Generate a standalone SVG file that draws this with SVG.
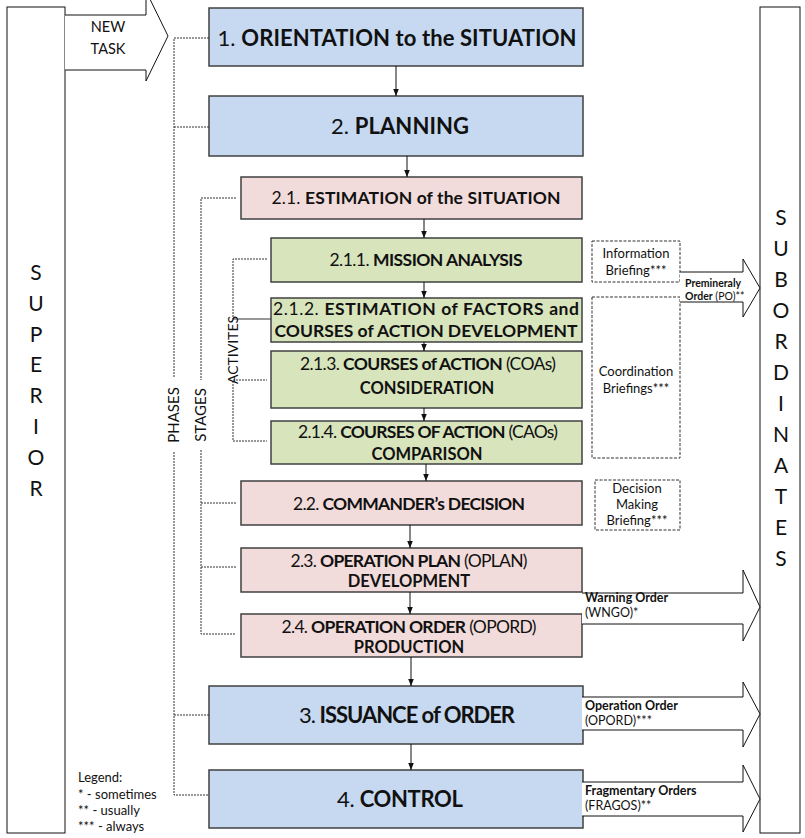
<svg xmlns="http://www.w3.org/2000/svg" width="805" height="838" viewBox="0 0 805 838">
  <style>
    text { font-family: Lato, "Liberation Sans", sans-serif; fill: #111; }
    .b { font-weight: bold; }
    .phase { fill: #c6d9f0; stroke: #404040; stroke-width: 1.5; }
    .stage { fill: #f2dcdb; stroke: #404040; stroke-width: 1.5; }
    .act { fill: #d7e4bc; stroke: #404040; stroke-width: 1.5; }
    .side { fill: #fff; stroke: #111; stroke-width: 1; }
    .big { fill: #fff; stroke: #111; stroke-width: 1; }
    .flow { stroke: #111; stroke-width: 1; fill: none; marker-end: url(#ah); }
    .dash { stroke: #333; stroke-width: 1; fill: none; stroke-dasharray: 2 1; }
    .solid { stroke: #333; stroke-width: 1; fill: none; }
    .brief { fill: #fff; stroke: #333; stroke-width: 1; stroke-dasharray: 3 1.5; }
    .t1 { font-size: 22px; }
    .t2 { font-size: 17.5px; }
    .t3 { font-size: 16.5px; font-weight: bold; text-anchor: middle; }
    .sm { font-size: 12.5px; }
    .br { font-size: 13px; }
    .letter { font-size: 21px; text-anchor: middle; }
    .lab { font-size: 15px; text-anchor: middle; }
    .mid { text-anchor: middle; }
  </style>
  <defs>
    <marker id="ah" markerWidth="8" markerHeight="8" refX="7" refY="4" orient="auto" markerUnits="userSpaceOnUse">
      <path d="M0,1.2 L7,4 L0,6.8 Z" fill="#111"/>
    </marker>
  </defs>

  <!-- side columns -->
  <g id="superior">
    <rect class="side" x="7" y="7" width="58" height="826"/>
    <g class="letter">
      <text x="36" y="280">S</text>
      <text x="36" y="311">U</text>
      <text x="36" y="342">P</text>
      <text x="36" y="372">E</text>
      <text x="36" y="403">R</text>
      <text x="36" y="434">I</text>
      <text x="36" y="465">O</text>
      <text x="36" y="496">R</text>
    </g>
  </g>
  <g id="subordinates">
    <rect class="side" x="760" y="7" width="40" height="826"/>
    <g class="letter">
      <text x="781" y="225">S</text>
      <text x="781" y="256">U</text>
      <text x="781" y="287">B</text>
      <text x="781" y="318">O</text>
      <text x="781" y="349">R</text>
      <text x="781" y="380">D</text>
      <text x="781" y="411">I</text>
      <text x="781" y="442">N</text>
      <text x="781" y="473">A</text>
      <text x="781" y="504">T</text>
      <text x="781" y="535">E</text>
      <text x="781" y="566">S</text>
    </g>
  </g>

  <!-- incoming task -->
  <g id="new-task">
    <path class="big" d="M65,15 H146 V-9 L168,36 L146,81 V70 H65"/>
    <text class="mid" x="108" y="32" style="font-size:14.5px">NEW</text>
    <text class="mid" x="108" y="54" style="font-size:14.5px">TASK</text>
  </g>

  <!-- phases -->
  <g id="p1">
    <rect class="phase" x="209" y="8" width="374" height="58"/>
    <text class="t1 mid" x="397" y="46" textLength="359">1. <tspan class="b">ORIENTATION to the SITUATION</tspan></text>
  </g>
  <g id="p2">
    <rect class="phase" x="209" y="96" width="374" height="60"/>
    <text class="t1 mid" x="400" y="134" textLength="138">2. <tspan class="b">PLANNING</tspan></text>
  </g>
  <g id="p3">
    <rect class="phase" x="209" y="686" width="374" height="58"/>
    <text class="t1 mid" x="407" y="723" textLength="216">3. <tspan class="b">ISSUANCE of ORDER</tspan></text>
  </g>
  <g id="p4">
    <rect class="phase" x="209" y="770" width="374" height="58"/>
    <text class="t1 mid" x="400" y="807" textLength="126">4. <tspan class="b">CONTROL</tspan></text>
  </g>

  <!-- stages -->
  <g id="s21">
    <rect class="stage" x="241" y="177" width="341" height="42"/>
    <text class="t2 mid" x="416" y="204" textLength="289">2.1. <tspan class="b">ESTIMATION of the SITUATION</tspan></text>
  </g>
  <g id="s22">
    <rect class="stage" x="241" y="481" width="341" height="44"/>
    <text class="t2 mid" x="409" y="510" textLength="232">2.2. <tspan class="b">COMMANDER’s DECISION</tspan></text>
  </g>
  <g id="s23">
    <rect class="stage" x="241" y="548" width="341" height="44"/>
    <text class="t2 mid" x="409" y="567" textLength="237">2.3. <tspan class="b">OPERATION PLAN</tspan> (OPLAN)</text>
    <text class="t3" x="409" y="587">DEVELOPMENT</text>
  </g>
  <g id="s24">
    <rect class="stage" x="241" y="614" width="341" height="43"/>
    <text class="t2 mid" x="409" y="633" textLength="255">2.4. <tspan class="b">OPERATION ORDER</tspan> (OPORD)</text>
    <text class="t3" x="409" y="653">PRODUCTION</text>
  </g>

  <!-- activities -->
  <g id="a211">
    <rect class="act" x="271" y="238" width="311" height="44"/>
    <text class="t2 mid" x="426" y="266" textLength="193">2.1.1. <tspan class="b">MISSION ANALYSIS</tspan></text>
  </g>
  <g id="a212">
    <rect class="act" x="271" y="298" width="311" height="44"/>
    <text class="t2 mid" x="426" y="315" textLength="306">2.1.2. <tspan class="b">ESTIMATION of FACTORS and</tspan></text>
    <text class="t2 mid b" x="426" y="337" textLength="303">COURSES of ACTION DEVELOPMENT</text>
  </g>
  <g id="a213">
    <rect class="act" x="271" y="351" width="311" height="57"/>
    <text class="t2 mid" x="428" y="370" textLength="256">2.1.3. <tspan class="b">COURSES of ACTION</tspan> (COAs)</text>
    <text class="t3" x="427" y="394">CONSIDERATION</text>
  </g>
  <g id="a214">
    <rect class="act" x="271" y="421" width="311" height="43"/>
    <text class="t2 mid" x="428" y="438" textLength="260">2.1.4. <tspan class="b">COURSES OF ACTION</tspan> (CAOs)</text>
    <text class="t3" x="427" y="460">COMPARISON</text>
  </g>

  <!-- briefings -->
  <g id="info-briefing">
    <rect class="brief" x="592" y="241" width="88" height="41"/>
    <text class="br mid" x="636" y="258">Information</text>
    <text class="br mid" x="636" y="275">Briefing***</text>
  </g>
  <g id="coord-briefing">
    <rect class="brief" x="592" y="297" width="88" height="161"/>
    <text class="br mid" x="636" y="376">Coordination</text>
    <text class="br mid" x="636" y="393">Briefings***</text>
  </g>
  <g id="decision-briefing">
    <rect class="brief" x="595" y="480" width="85" height="50"/>
    <text class="br mid" x="637" y="493">Decision</text>
    <text class="br mid" x="637" y="509">Making</text>
    <text class="br mid" x="637" y="525">Briefing***</text>
  </g>

  <!-- orders to subordinates -->
  <g id="po">
    <path class="big" d="M680,272 H743 V259 L760,288 L743,317 V302 H680"/>
    <text class="b" x="685" y="287" style="font-size:10.5px">Premineraly</text>
    <text x="685" y="300" style="font-size:10.5px"><tspan class="b">Order</tspan> (PO)**</text>
  </g>
  <g id="wngo">
    <path class="big" d="M582,593 H743 V570 L760,607 L743,641 V624 H582"/>
    <text class="sm b" x="585" y="602">Warning Order</text>
    <text class="sm" x="585" y="617">(WNGO)*</text>
  </g>
  <g id="opord">
    <path class="big" d="M582,697 H743 V682 L760,714 L743,747 V730 H582"/>
    <text class="sm b" x="585" y="710">Operation Order</text>
    <text class="sm" x="585" y="725">(OPORD)***</text>
  </g>
  <g id="fragos">
    <path class="big" d="M582,782 H743 V765 L760,799 L743,832 V816 H582"/>
    <text class="sm b" x="585" y="795">Fragmentary Orders</text>
    <text class="sm" x="585" y="810">(FRAGOS)**</text>
  </g>

  <!-- legend -->
  <g id="legend">
    <text class="br" x="78" y="782">Legend:</text>
    <text class="br" x="78" y="799">* - sometimes</text>
    <text class="br" x="78" y="815">** - usually</text>
    <text class="br" x="78" y="831">*** - always</text>
  </g>

  <!-- connectors -->
  <g id="connectors">
    <line class="flow" x1="396" y1="66" x2="396" y2="96"/>
    <line class="flow" x1="407" y1="156" x2="407" y2="177"/>
    <line class="flow" x1="424" y1="219" x2="424" y2="238"/>
    <line class="flow" x1="424" y1="282" x2="424" y2="298"/>
    <line class="flow" x1="424" y1="342" x2="424" y2="351"/>
    <line class="flow" x1="424" y1="408" x2="424" y2="421"/>
    <line class="flow" x1="426" y1="464" x2="426" y2="481"/>
    <line class="flow" x1="410" y1="525" x2="410" y2="548"/>
    <line class="flow" x1="410" y1="592" x2="410" y2="614"/>
    <line class="flow" x1="411" y1="657" x2="411" y2="686"/>
    <line class="flow" x1="411" y1="744" x2="411" y2="770"/>

    <!-- phase bracket -->
    <path class="dash" d="M209,38 H174 V378 M174,452 V795 H209 M174,127 H209 M174,715 H209"/>
    <text class="lab" transform="translate(179,415) rotate(-90)">PHASES</text>

    <!-- stage bracket -->
    <path class="dash" d="M236,198 H201 V380 M201,450 V634 H236 M201,503 H236 M201,567 H236"/>
    <text class="lab" transform="translate(206,415) rotate(-90)">STAGES</text>

    <!-- activity bracket -->
    <path class="dash" d="M267,259 H233 V319 M233,381 V441 H267 M233,380 H267"/>
    <path class="solid" d="M233,319 H271"/>
    <text class="lab" transform="translate(238,350) rotate(-90)" style="font-size:14px">ACTIVITES</text>
  </g>
</svg>
